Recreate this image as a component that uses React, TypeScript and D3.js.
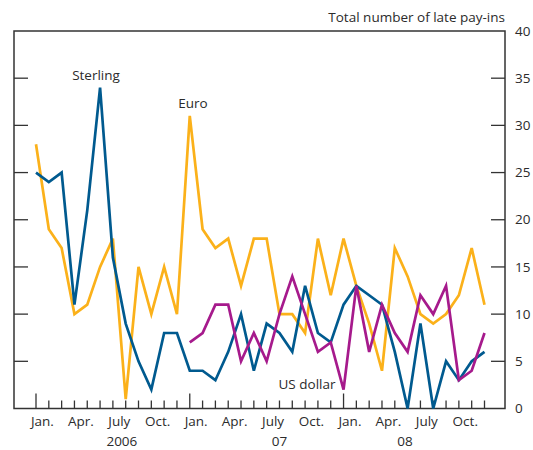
import React, { useEffect, useRef } from 'react';
import * as d3 from 'd3';

// monthly values Jan 2006 - Dec 2008
const sterling = [25, 24, 25, 11, 21, 34, 16, 9, 5, 2, 8, 8, 4, 4, 3, 6, 10, 4, 9, 8, 6, 13, 8, 7, 11, 13, 12, 11, 6, 0, 9, 0, 5, 3, 5, 6];
const euro = [28, 19, 17, 10, 11, 15, 18, 1, 15, 10, 15, 10, 31, 19, 17, 18, 13, 18, 18, 10, 10, 8, 18, 12, 18, 13, 9, 4, 17, 14, 10, 9, 10, 12, 17, 11];
// US dollar starts Jan 2007
const usDollar = [null, null, null, null, null, null, null, null, null, null, null, null, 7, 8, 11, 11, 5, 8, 5, 10, 14, 10, 6, 7, 2, 13, 6, 11, 8, 6, 12, 10, 13, 3, 4, 8];

const monthLabels = ['Jan.', 'Apr.', 'July', 'Oct.'];
const years = ['2006', '07', '08'];
const yearLabelPos = [6.7, 19, 28.8];
const yTicks = [0, 5, 10, 15, 20, 25, 30, 35, 40];

const App = () => {
  const svgRef = useRef<SVGSVGElement>(null);

  useEffect(() => {
    const svg = d3.select(svgRef.current);
    svg.selectAll('*').remove();
    const font = "'Open Sans', 'Noto Sans', sans-serif";
    const fontSize = 13.5;
    const axisColor = '#333333';
    const textColor = '#2b2b2b';

    const left = 14;
    const right = 505;
    const top = 31;
    const bottom = 408.5;

    const x = d3.scaleLinear().domain([0, 35]).range([36, 484.5]);
    const y = d3.scaleLinear().domain([0, 40]).range([bottom, top]);

    // frame
    svg
      .append('rect')
      .attr('x', left)
      .attr('y', top)
      .attr('width', right - left)
      .attr('height', bottom - top)
      .attr('fill', 'none')
      .attr('stroke', axisColor)
      .attr('stroke-width', 1.5);

    // y ticks, both sides inward
    yTicks.slice(1, -1).forEach((t) => {
      svg.append('line').attr('x1', left).attr('x2', left + 14).attr('y1', y(t)).attr('y2', y(t)).attr('stroke', axisColor).attr('stroke-width', 1.3);
      svg.append('line').attr('x1', right - 14).attr('x2', right).attr('y1', y(t)).attr('y2', y(t)).attr('stroke', axisColor).attr('stroke-width', 1.3);
    });
    yTicks.forEach((t) => {
      svg
        .append('text')
        .attr('x', 515)
        .attr('y', y(t))
        .attr('dy', '0.35em')
        .attr('font-family', font)
        .attr('font-size', fontSize)
        .attr('fill', textColor)
        .text(t);
    });

    // x ticks
    d3.range(36).forEach((i) => {
      const long = i % 12 === 0;
      svg
        .append('line')
        .attr('x1', x(i))
        .attr('x2', x(i))
        .attr('y1', bottom - (long ? 15 : 8))
        .attr('y2', bottom)
        .attr('stroke', axisColor)
        .attr('stroke-width', 1.3);
      if (i % 3 === 0) {
        svg
          .append('text')
          .attr('x', x(i + 0.5))
          .attr('y', 426)
          .attr('text-anchor', 'middle')
          .attr('font-family', font)
          .attr('font-size', fontSize)
          .attr('fill', textColor)
          .text(monthLabels[(i % 12) / 3]);
      }
    });
    years.forEach((yr, i) => {
      svg
        .append('text')
        .attr('x', x(yearLabelPos[i]))
        .attr('y', 446)
        .attr('text-anchor', 'middle')
        .attr('font-family', font)
        .attr('font-size', fontSize)
        .attr('fill', textColor)
        .text(yr);
    });

    // title
    svg
      .append('text')
      .attr('x', right)
      .attr('y', 22)
      .attr('text-anchor', 'end')
      .attr('font-family', font)
      .attr('font-size', fontSize)
      .attr('fill', textColor)
      .text('Total number of late pay-ins');

    const line = d3
      .line<number | null>()
      .defined((d) => d !== null)
      .x((_, i) => x(i))
      .y((d) => y(d as number));

    const series = [
      { data: euro, color: '#fbb11a' },
      { data: sterling, color: '#005a8f' },
      { data: usDollar, color: '#a61a8c' },
    ];
    series.forEach((s) => {
      svg
        .append('path')
        .datum(s.data)
        .attr('d', line)
        .attr('fill', 'none')
        .attr('stroke', s.color)
        .attr('stroke-width', 2.7)
        .attr('stroke-linejoin', 'miter');
    });

    // series labels
    const labels = [
      { text: 'Sterling', x: 96, y: 80 },
      { text: 'Euro', x: 193, y: 108 },
      { text: 'US dollar', x: 307, y: 389 },
    ];
    labels.forEach((l) => {
      svg
        .append('text')
        .attr('x', l.x)
        .attr('y', l.y)
        .attr('text-anchor', 'middle')
        .attr('font-family', font)
        .attr('font-size', fontSize)
        .attr('fill', textColor)
        .text(l.text);
    });
  }, []);

  return <svg ref={svgRef} width={533} height={450} style={{ position: 'absolute', left: 0, top: 0 }}></svg>;
};

export default App;
